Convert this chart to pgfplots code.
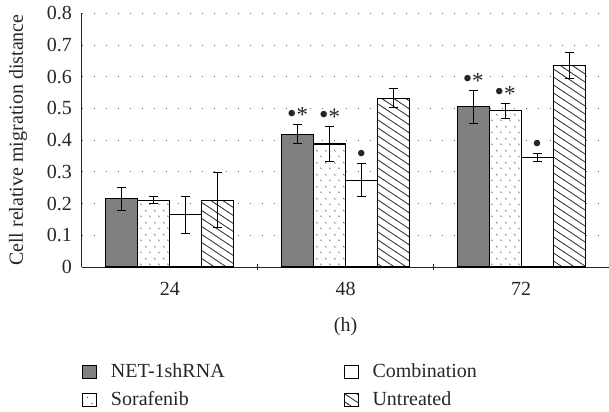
\documentclass[border=0pt]{standalone}
\usepackage{fontspec}
\setmainfont{Liberation Serif}
\usepackage{graphicx}
\usepackage{pgfplots}
\pgfplotsset{compat=1.18}
\usetikzlibrary{patterns}

\pgfdeclarepatternformonly{sordots}{\pgfqpoint{0bp}{0bp}}{\pgfqpoint{9bp}{12bp}}{\pgfqpoint{9bp}{12bp}}{%
 \pgfsetlinewidth{0.7bp}%
 \pgfpathmoveto{\pgfqpoint{1.5bp}{10.5bp}}\pgfpathlineto{\pgfqpoint{2.7bp}{9.2bp}}%
 \pgfpathmoveto{\pgfqpoint{6bp}{4.5bp}}\pgfpathlineto{\pgfqpoint{7.2bp}{3.2bp}}%
 \pgfusepath{stroke}}

\pgfdeclarepatternformonly{nwhatch}{\pgfqpoint{-1bp}{-1bp}}{\pgfqpoint{13bp}{9bp}}{\pgfqpoint{12bp}{8bp}}{%
 \pgfsetlinewidth{0.8bp}%
 \pgfpathmoveto{\pgfqpoint{-0.5bp}{8.333bp}}\pgfpathlineto{\pgfqpoint{12.5bp}{-0.333bp}}%
 \pgfusepath{stroke}}

\definecolor{netgray}{RGB}{128,128,128}
\newcommand{\bigbul}{\raisebox{-0.3bp}{\scalebox{1.35}{•}}}
\newcommand{\bs}{\bigbul\raisebox{-1.2bp}{\scalebox{1.15}{*}}}
\newcommand{\bl}{\bigbul}

\begin{document}
\fontsize{20bp}{23bp}\selectfont
\begin{tikzpicture}
\begin{axis}[
  at={(0,0)}, anchor=south west,
  scale only axis, width=527bp, height=253.7bp,
  xmin=-0.5, xmax=2.5, ymin=0, ymax=0.8,
  axis x line=bottom, axis y line=left,
  axis line style={-, line width=1bp, black!85},
  xtick={0,1,2}, xticklabels={24,48,72},
  minor xtick={0.5,1.5},
  ytick={0,0.1,0.2,0.3,0.4,0.5,0.6,0.7,0.8},
  yticklabels={0,0.1,0.2,0.3,0.4,0.5,0.6,0.7,0.8},
  major tick length=0pt, minor tick length=6bp,
  minor tick style={line width=1bp, black!85},
  /pgf/number format/assume math mode=true,
  tick label style={font=\fontsize{20bp}{23bp}\selectfont, black!85},
  xticklabel style={yshift=-8.3bp},
  yticklabel style={xshift=-3.3bp},
  ymajorgrids,
  major grid style={dash pattern=on 1.2bp off 10.8bp, line width=1bp, black!60},
  xlabel={(h)},
  xlabel style={at={(axis description cs:0.5,0)}, anchor=north, yshift=-44bp, font=\fontsize{20bp}{23bp}\selectfont, black!85},
  ylabel={Cell relative migration distance},
  ylabel style={at={(axis description cs:-0.1214,0.5)}, anchor=center, font=\fontsize{20bp}{23bp}\selectfont, black!85},
  bar width=0.182,
  error bars/y dir=both, error bars/y explicit,
  error bars/error bar style={line width=1bp, black},
  error bars/error mark options={rotate=90, mark size=4.5bp, line width=1bp, black},
  legend columns=2,
  legend cell align=left,
  legend style={at={(axis description cs:0,-0.3587)}, anchor=north west,
    draw=none, fill=none, inner sep=0pt,
    font=\fontsize{20bp}{23bp}\selectfont, text=black!85,
    nodes={inner xsep=0pt, inner ysep=5bp, text height=14bp, text depth=4bp},
    /tikz/every odd column/.append style={column sep=14bp},
    /tikz/every even column/.append style={column sep=119bp}},
  legend image code/.code={\draw[#1] (0bp,-6.5bp) rectangle (14bp,6.5bp);},
]
% NET-1shRNA
\addplot[ybar, bar shift=0pt, fill=netgray, draw=black, line width=1.1bp, forget plot]
  coordinates {(-0.2727,0.215) +- (0,0.036) (0.7273,0.419) +- (0,0.030) (1.7273,0.506) +- (0,0.052)};
% Sorafenib
\addplot[ybar, bar shift=0pt, fill=white, draw=black, line width=1.1bp, forget plot,
  postaction={pattern=sordots, pattern color=black!70}]
  coordinates {(-0.0909,0.211) +- (0,0.012) (0.9091,0.388) +- (0,0.055) (1.9091,0.493) +- (0,0.024)};
% Combination
\addplot[ybar, bar shift=0pt, fill=white, draw=black, line width=1.1bp, forget plot]
  coordinates {(0.0909,0.165) +- (0,0.058) (1.0909,0.274) +- (0,0.051) (2.0909,0.345) +- (0,0.012)};
% Untreated
\addplot[ybar, bar shift=0pt, fill=white, draw=black, line width=1.1bp, forget plot,
  postaction={pattern=nwhatch, pattern color=black!85}]
  coordinates {(0.2727,0.211) +- (0,0.088) (1.2727,0.532) +- (0,0.030) (2.2727,0.635) +- (0,0.041)};
% significance marks
\addplot[only marks, mark=none, forget plot, point meta=explicit symbolic,
  nodes near coords, nodes near coords style={anchor=south, inner sep=1.5bp, font=\fontsize{20bp}{23bp}\selectfont, black!85}]
  coordinates {(0.7273,0.449)[\bs] (0.9091,0.443)[\bs] (1.0909,0.325)[\bl]
               (1.7273,0.558)[\bs] (1.9091,0.517)[\bs] (2.0909,0.357)[\bl]};
\addlegendimage{fill=netgray, draw=black, line width=0.8bp}
\addlegendentry{NET-1shRNA}
\addlegendimage{fill=white, draw=black, line width=0.8bp}
\addlegendentry{Combination}
\addlegendimage{fill=white, draw=black, line width=0.8bp, postaction={pattern=sordots, pattern color=black!70}}
\addlegendentry{Sorafenib}
\addlegendimage{fill=white, draw=black, line width=0.8bp, postaction={pattern=nwhatch, pattern color=black!85}}
\addlegendentry{Untreated}
\end{axis}
\pgfresetboundingbox
\path[use as bounding box] (-82bp,-145bp) rectangle (527bp,267bp);
\end{tikzpicture}
\end{document}
